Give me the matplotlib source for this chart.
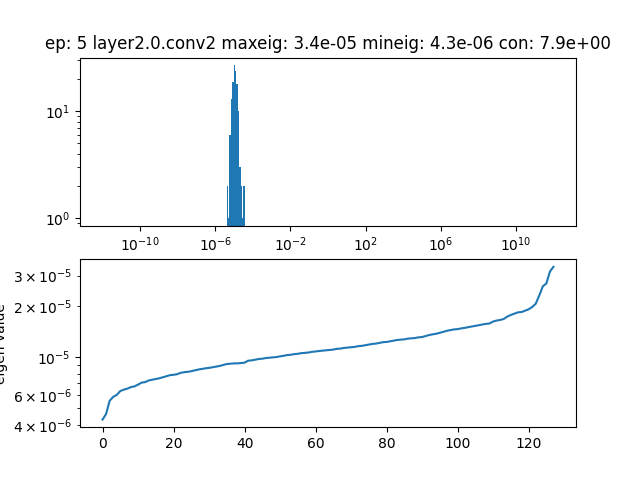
import numpy as np
import matplotlib
matplotlib.use('Agg')
import matplotlib.pyplot as plt
from matplotlib import ticker

epoch = 5
layer_name = 'layer2.0.conv2'

# sorted eigen values (x1e-6)
eigs_e6 = [
    4.30, 4.64, 5.54, 5.84, 6.00, 6.32, 6.44, 6.53, 6.67, 6.73,
    6.89, 7.08, 7.13, 7.29, 7.36, 7.42, 7.51, 7.62, 7.72, 7.83,
    7.87, 7.93, 8.08, 8.15, 8.19, 8.26, 8.36, 8.45, 8.52, 8.59,
    8.64, 8.71, 8.79, 8.87, 8.99, 9.10, 9.14, 9.18, 9.18, 9.23,
    9.27, 9.52, 9.56, 9.65, 9.74, 9.78, 9.87, 9.91, 9.95, 10.00,
    10.10, 10.17, 10.27, 10.31, 10.40, 10.45, 10.54, 10.59, 10.63, 10.73,
    10.78, 10.85, 10.90, 10.95, 10.99, 11.06, 11.17, 11.21, 11.31, 11.36,
    11.42, 11.47, 11.58, 11.63, 11.73, 11.83, 11.94, 11.99, 12.10, 12.22,
    12.26, 12.37, 12.48, 12.59, 12.64, 12.70, 12.82, 12.88, 12.93, 13.05,
    13.10, 13.28, 13.46, 13.59, 13.70, 13.87, 14.06, 14.26, 14.39, 14.52,
    14.58, 14.72, 14.83, 14.97, 15.11, 15.23, 15.38, 15.52, 15.65, 15.73,
    16.15, 16.37, 16.50, 16.72, 17.27, 17.65, 17.98, 18.29, 18.36, 18.71,
    19.05, 19.64, 20.53, 22.94, 25.95, 27.00, 31.70, 33.80,
]
eigs = np.array(eigs_e6) * 1e-6

# histogram bin edges and the x tick decades of the upper panel
bin_edges = np.logspace(-12, 12, 321)
hist_ticks = [1e-10, 1e-6, 1e-2, 1e2, 1e6, 1e10]

maxeig = eigs.max()
mineig = eigs.min()

fig = plt.figure(figsize=(6.4, 4.8), dpi=100)

ax1 = plt.subplot(2, 1, 1)
plt.hist(eigs, bins=bin_edges)
plt.xscale('log')
plt.yscale('log')
ax1.set_xticks(hist_ticks)
ax1.xaxis.set_minor_locator(ticker.NullLocator())
plt.title('ep: %d %s maxeig: %.1e mineig: %.1e con: %.1e'
          % (epoch, layer_name, maxeig, mineig, maxeig / mineig))

plt.subplot(2, 1, 2)
plt.plot(np.arange(len(eigs)), eigs)
plt.yscale('log')
plt.ylabel('eigen value')

plt.savefig('out.png')
